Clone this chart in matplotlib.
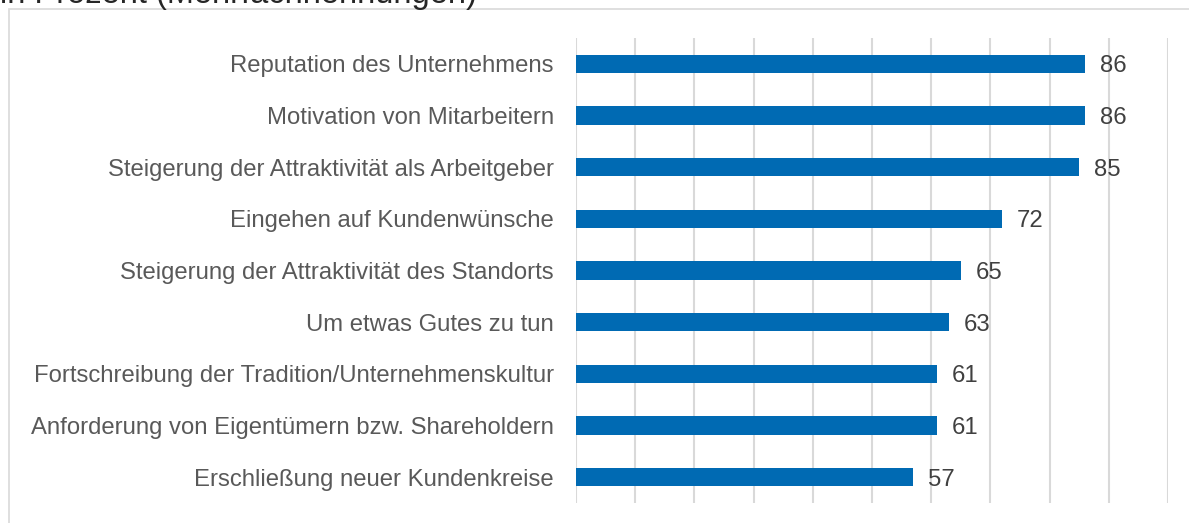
import matplotlib.pyplot as plt
from matplotlib.patches import Rectangle

plt.rcParams['font.family'] = ['Liberation Sans', 'DejaVu Sans']

# Daten
categories = [
    'Reputation des Unternehmens',
    'Motivation von Mitarbeitern',
    'Steigerung der Attraktivität als Arbeitgeber',
    'Eingehen auf Kundenwünsche',
    'Steigerung der Attraktivität des Standorts',
    'Um etwas Gutes zu tun',
    'Fortschreibung der Tradition/Unternehmenskultur',
    'Anforderung von Eigentümern bzw. Shareholdern',
    'Erschließung neuer Kundenkreise',
]
values = [86, 86, 85, 72, 65, 63, 61, 61, 57]
subtitle = 'in Prozent (Mehrfachnennungen)'

W, H = 1189, 523
fig = plt.figure(figsize=(W / 100, H / 100), dpi=100)

# Rahmen um das Diagramm
fig.patches.append(Rectangle((9 / W, -0.1), 1.2, 1 - 9 / H + 0.1,
                             transform=fig.transFigure, fill=False,
                             edgecolor='#d9d9d9', linewidth=1.2))

# Untertitel, oben abgeschnitten
fig.text(0.0, 1 - 3 / H, subtitle, fontsize=23.5, color='#262626',
         ha='left', va='baseline')

ax = fig.add_axes([576 / W, 1 - 503 / H, (1168 - 576) / W, (503 - 38) / H])
y = list(range(len(categories)))
ax.barh(y, values, height=0.36, color='#006ab3', zorder=3)
ax.set_xlim(0, 100)
ax.set_ylim(len(categories) - 0.5, -0.5)
ax.set_xticks(range(0, 101, 10))
ax.set_xticklabels([])
ax.grid(axis='x', color='#d9d9d9', linewidth=1.5, zorder=0)
ax.tick_params(length=0)
ax.set_yticks(y)
ax.set_yticklabels(categories, fontsize=17.2, color='#595959')
ax.tick_params(axis='y', pad=16)
for s in ax.spines.values():
    s.set_visible(False)

for yi, v in zip(y, values):
    ax.text(v + 2.5, yi, str(v), va='center_baseline', ha='left',
            fontsize=17.2, color='#404040', zorder=4)

fig.savefig('out.png', dpi=100)
